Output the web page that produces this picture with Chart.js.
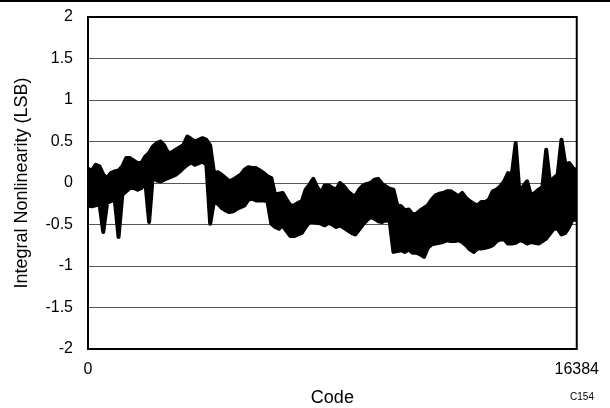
<!DOCTYPE html>
<html>
<head>
<meta charset="utf-8">
<script src="https://cdn.jsdelivr.net/npm/chart.js@4/dist/chart.umd.min.js"></script>
<style>
  html, body { margin: 0; padding: 0; background: #fff; }
  #wrap { width: 610px; height: 408px; position: relative; }
</style>
</head>
<body>
<div id="wrap"><canvas id="inl" width="610" height="408"></canvas></div>
<script>
"use strict";

// un punto cada 128 codigos (0 ... 16384)
const paso = 128;
const xTicks = [0, 16384];
const yTicks = [-2, -1.5, -1, -0.5, 0, 0.5, 1, 1.5, 2];

// borde superior de la traza de INL (LSB)
const inlMax = [
  0.17, 0.15, 0.22, 0.20, 0.10, 0.06, 0.12, 0.14, 0.15, 0.20,
  0.30, 0.30, 0.27, 0.24, 0.24, 0.32, 0.36, 0.44, 0.48, 0.50,
  0.45, 0.36, 0.37, 0.40, 0.43, 0.46, 0.56, 0.53, 0.50, 0.52,
  0.54, 0.52, 0.45, 0.12, 0.13, 0.10, 0.06, 0.02, 0.04, 0.07,
  0.10, 0.16, 0.19, 0.18, 0.18, 0.15, 0.12, 0.08, 0.06, -0.14,
  -0.13, -0.12, -0.20, -0.27, -0.27, -0.24, -0.22, -0.08, -0.02, 0.05,
  -0.05, -0.12, -0.03, -0.03, -0.06, -0.08, 0.00, -0.04, -0.10, -0.14,
  -0.16, -0.08, -0.03, -0.01, 0.00, 0.04, 0.05, -0.01, -0.04, -0.07,
  -0.08, -0.27, -0.28, -0.33, -0.32, -0.38, -0.37, -0.33, -0.30, -0.27,
  -0.20, -0.15, -0.13, -0.12, -0.10, -0.10, -0.13, -0.16, -0.12, -0.18,
  -0.22, -0.25, -0.27, -0.23, -0.23, -0.20, -0.10, -0.08, -0.04, 0.02,
  0.12, 0.10, 0.48, -0.12, -0.04, 0.02, -0.15, -0.12, -0.08, -0.05,
  0.40, 0.00, 0.06, 0.10, 0.52, 0.23, 0.24, 0.18, 0.15
];

// borde inferior de la traza de INL (LSB)
const inlMin = [
  -0.27, -0.28, -0.27, -0.25, -0.59, -0.24, -0.22, -0.20, -0.65, -0.14,
  -0.10, -0.06, -0.06, -0.08, -0.06, 0.02, -0.47, 0.10, 0.03, 0.02,
  0.04, 0.06, 0.08, 0.10, 0.14, 0.18, 0.22, 0.25, 0.22, 0.24,
  0.26, 0.22, -0.49, -0.22, -0.25, -0.30, -0.33, -0.35, -0.34, -0.31,
  -0.29, -0.27, -0.20, -0.19, -0.21, -0.21, -0.21, -0.22, -0.49, -0.53,
  -0.55, -0.51, -0.58, -0.64, -0.64, -0.62, -0.60, -0.53, -0.47, -0.47,
  -0.48, -0.49, -0.51, -0.48, -0.50, -0.53, -0.51, -0.54, -0.57, -0.60,
  -0.62, -0.56, -0.50, -0.45, -0.41, -0.43, -0.46, -0.47, -0.45, -0.46,
  -0.83, -0.82, -0.81, -0.83, -0.80, -0.84, -0.84, -0.86, -0.89, -0.78,
  -0.74, -0.73, -0.72, -0.71, -0.69, -0.70, -0.70, -0.69, -0.71, -0.75,
  -0.80, -0.83, -0.79, -0.79, -0.78, -0.77, -0.75, -0.70, -0.68, -0.68,
  -0.73, -0.73, -0.72, -0.69, -0.70, -0.73, -0.71, -0.72, -0.73, -0.70,
  -0.67, -0.61, -0.55, -0.55, -0.62, -0.60, -0.53, -0.43, -0.45
];

let arriba = inlMax.map((v, i) => ({ x: i * paso, y: v }));
let abajo = inlMin.map((v, i) => ({ x: i * paso, y: v }));

const fuente = "Arial, 'Liberation Sans', sans-serif";

const marco = {
  id: "marco",
  afterDraw(chart) {
    const c = chart.ctx;
    const a = chart.chartArea;
    c.save();
    c.fillStyle = "#000";
    c.fillRect(0, 0, chart.width, 2); // linea superior de la pagina
    c.strokeStyle = "#000";
    c.lineWidth = 2;
    c.strokeRect(a.left, a.top, a.right - a.left, a.bottom - a.top);
    c.font = "10px " + fuente;
    c.textAlign = "center";
    c.textBaseline = "middle";
    c.fillText("C154", 582, 397);
    c.restore();
  }
};

const ctx = document.getElementById("inl").getContext("2d");
new Chart(ctx, {
  type: "line",
  data: {
    datasets: [
      {
        data: arriba,
        borderColor: "#000",
        borderWidth: 4,
        borderJoinStyle: "round",
        borderCapStyle: "round",
        pointRadius: 0,
        fill: false
      },
      {
        data: abajo,
        borderColor: "#000",
        backgroundColor: "#000",
        borderWidth: 4,
        borderJoinStyle: "round",
        borderCapStyle: "round",
        pointRadius: 0,
        fill: "-1"
      }
    ]
  },
  options: {
    responsive: false,
    animation: false,
    layout: { padding: { top: 17, right: 32, bottom: -1, left: 0 } },
    plugins: { legend: { display: false }, tooltip: { enabled: false } },
    scales: {
      x: {
        type: "linear",
        min: 0,
        max: 16384,
        afterBuildTicks(s) { s.ticks = xTicks.map(v => ({ value: v })); },
        afterFit(s) { s.height = 60; },
        grid: { display: false, drawTicks: false },
        border: { display: false },
        ticks: {
          color: "#000", font: { family: fuente, size: 16 }, padding: 11, maxRotation: 0,
          callback: v => String(v)
        },
        title: { display: true, text: "Code", color: "#000", font: { family: fuente, size: 18 }, padding: { top: 0, bottom: 0 } }
      },
      y: {
        min: -2,
        max: 2,
        afterBuildTicks(s) { s.ticks = yTicks.map(v => ({ value: v })); },
        afterFit(s) {
          s.width = 88;
          s.paddingTop = 0;
          s.paddingBottom = 0;
        },
        grid: { color: "#555", lineWidth: 1, drawTicks: false },
        border: { display: false },
        ticks: {
          color: "#000", font: { family: fuente, size: 16 }, padding: 15,
          callback: v => String(v)
        },
        title: { display: true, text: "Integral Nonlinearity (LSB)", color: "#000", font: { family: fuente, size: 18 }, padding: { top: 11, bottom: 0 } }
      }
    }
  },
  plugins: [marco]
});
</script>
</body>
</html>
